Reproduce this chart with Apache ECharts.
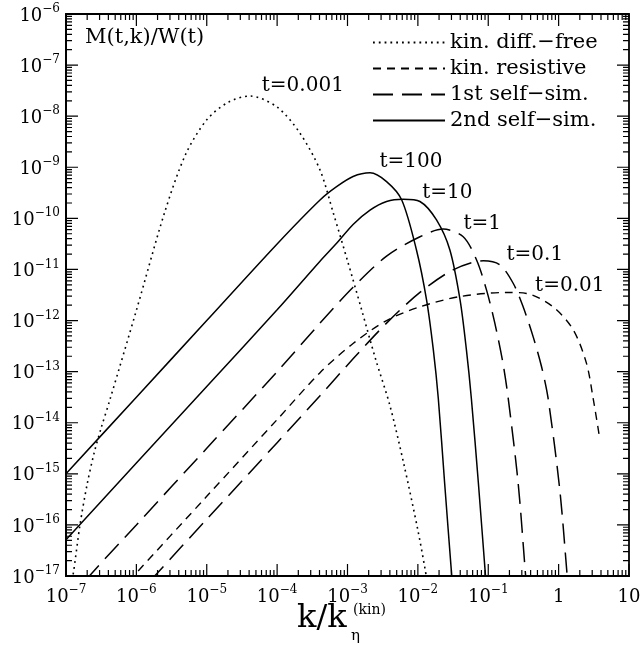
<!DOCTYPE html>
<html><head><meta charset="utf-8">
<script src="https://cdn.jsdelivr.net/npm/echarts@6/dist/echarts.min.js"></script>
<style>html,body{margin:0;padding:0;background:#fff}#c{width:641px;height:645px}</style>
</head><body><div id="c"></div>
<script>
const FONT = '"DejaVu Serif", serif';
const X_MIN = 1e-7, X_MAX = 10, Y_MIN = 1e-17, Y_MAX = 1e-6;

// tick labels
const xTickExponents = [-7, -6, -5, -4, -3, -2, -1, 0, 1];
const xTickLabels = [['10','−7'],['10','−6'],['10','−5'],['10','−4'],['10','−3'],['10','−2'],['10','−1'],['1',''],['10','']];
const yTickExponents = [-17,-16,-15,-14,-13,-12,-11,-10,-9,-8,-7,-6];
const yTickLabels = [['10','−17'],['10','−16'],['10','−15'],['10','−14'],['10','−13'],['10','−12'],['10','−11'],['10','−10'],['10','−9'],['10','−8'],['10','−7'],['10','−6']];

// legend names
const legendNames = ['kin. diff.−free', 'kin. resistive', '1st self−sim.', '2nd self−sim.'];

// series values [k/k_eta, M/W]
const diffFree_t0001 = [
  [1.12e-7,5.0e-18],[1.26e-7,1.05e-17],[1.58e-7,1.0e-16],[2.0e-7,6.3e-16],[2.5e-7,2.5e-15],
  [3.16e-7,7.9e-15],[4.2e-7,2.8e-14],[1e-6,1.58e-12],[2.5e-6,1.26e-10],[5.0e-6,1.78e-9],
  [1e-5,8.5e-9],[2.0e-5,1.86e-8],[4.1e-5,2.48e-8],[1e-4,1.51e-8],[2.1e-4,4.7e-9],
  [4.06e-4,8.9e-10],[6.3e-4,1.26e-10],[1e-3,1.48e-11],[1.58e-3,1.66e-12],[2.5e-3,1.78e-13],
  [3.98e-3,2.24e-14],[6.3e-3,1.58e-15],[1e-2,7.9e-17],[1.26e-2,1.41e-17],[1.41e-2,5.6e-18]
];
const resistive_t001 = [
  [7.9e-7,7.9e-18],[9.12e-7,1e-17],[1e-5,3.63e-16],[1e-4,1.15e-14],[4.07e-4,9.55e-14],
  [1.2e-3,3.55e-13],[3.59e-3,1e-12],[1.07e-2,1.86e-12],[3.98e-2,2.95e-12],[0.182,3.55e-12],
  [0.35,3.39e-12],[0.832,1.86e-12],[1.61,6.6e-13],[2.49,1.45e-13],[3.09,3.02e-14],[3.85,4.79e-15]
];
const selfSim1_t01 = [
  [1.58e-6,7.9e-18],[1.82e-6,1e-17],[1e-5,1.29e-16],[1e-4,4.07e-15],[4.07e-4,3.39e-14],
  [1.2e-3,1.78e-13],[3.59e-3,8.9e-13],[1.07e-2,3.55e-12],[3.16e-2,9.8e-12],[8.5e-2,1.48e-11],
  [0.146,1.23e-11],[0.226,5.37e-12],[0.313,1.86e-12],[0.435,4.79e-13],[0.571,1.26e-13],
  [0.708,3.02e-14],[1.04,4.79e-16],[1.32,1.05e-17],[1.38,5e-18]
];
const selfSim1_t1 = [
  [2.0e-7,7.9e-18],[2.15e-7,1e-17],[1e-6,1e-16],[1e-5,3.16e-15],[1e-4,1e-13],
  [4.07e-4,8.9e-13],[1.2e-3,4.47e-12],[3.59e-3,1.82e-11],[1.07e-2,4.37e-11],[2.29e-2,6.17e-11],
  [4.41e-2,4.37e-11],[6.8e-2,1.55e-11],[9.44e-2,3.98e-12],[0.124,8.9e-13],[0.162,1.45e-13],
  [0.192,3.02e-14],[0.266,6.6e-16],[0.339,1.05e-17],[0.355,5e-18]
];
const selfSim2_t10 = [
  [1e-7,5.1e-17],[1e-6,1.62e-15],[1e-5,5.1e-14],[1e-4,1.62e-12],[4.07e-4,1.45e-11],
  [7.0e-4,3.24e-11],[1.2e-3,7.6e-11],[2.09e-3,1.45e-10],[3.59e-3,2.14e-10],[6.17e-3,2.37e-10],
  [1.07e-2,2.14e-10],[1.84e-2,9.3e-11],[2.85e-2,2.4e-11],[3.98e-2,2.51e-12],[4.9e-2,2.63e-13],
  [5.75e-2,3.02e-14],[7.24e-2,6.6e-16],[9.12e-2,1.05e-17],[9.55e-2,5e-18]
];
const selfSim2_t100 = [
  [1e-7,1e-15],[1e-6,3.16e-14],[1e-5,1e-12],[1e-4,3.16e-11],[4.07e-4,2.29e-10],
  [7.0e-4,4.17e-10],[1.2e-3,6.6e-10],[2.09e-3,7.8e-10],[3.59e-3,5.25e-10],[5.9e-3,2.29e-10],
  [9.55e-3,2.4e-11],[1.33e-2,2.51e-12],[1.66e-2,2.63e-13],[1.95e-2,3.02e-14],[2.4e-2,6.6e-16],
  [3.02e-2,1.05e-17],[3.16e-2,5e-18]
];
const curveLabels = [
  [2.32e-4, 3.9e-8, 't=0.001'],
  [7.96e-3, 1.27e-9, 't=100'],
  [2.62e-2, 3.18e-10, 't=10'],
  [8.24e-2, 7.8e-11, 't=1'],
  [0.459, 1.92e-11, 't=0.1'],
  [1.44, 4.8e-12, 't=0.01']
];

// tick marks drawn as short line segments (gaps between them), 1..9 x 10^n
// tick lengths expressed as multiplicative factors on the log axes (~12 px major, ~6 px minor)
const Y_FAC_MAJOR = 1.718, Y_FAC_MINOR = 1.31, X_FAC_MAJOR = 1.481, X_FAC_MINOR = 1.217;
const xTickSegs = [];
for (let e = -7; e <= 1; e++) for (let m = 1; m <= 9; m++) {
  const v = m * Math.pow(10, e);
  if (v > X_MAX * 1.0001) continue;
  const f = m === 1 ? Y_FAC_MAJOR : Y_FAC_MINOR;
  xTickSegs.push([v, Y_MIN], [v, Y_MIN * f], [v, '-'], [v, Y_MAX], [v, Y_MAX / f], [v, '-']);
}
const yTickSegs = [];
for (let e = -17; e <= -6; e++) for (let m = 1; m <= 9; m++) {
  const v = m * Math.pow(10, e);
  if (v > Y_MAX * 1.0001) continue;
  const f = m === 1 ? X_FAC_MAJOR : X_FAC_MINOR;
  yTickSegs.push([X_MIN, v], [X_MIN * f, v], ['-', v], [X_MAX, v], [X_MAX / f, v], ['-', v]);
}

const richLabel = {
  b: {fontFamily: FONT, fontSize: 18, lineHeight: 22, color: '#000', verticalAlign: 'bottom'},
  s: {fontFamily: FONT, fontSize: 12, lineHeight: 14, color: '#000', verticalAlign: 'top'}
};
function fmt(exps, labels) {
  return function (v) {
    const e = Math.round(Math.log10(v));
    const i = exps.indexOf(e);
    if (i < 0) return '';
    const [b, s] = labels[i];
    return s ? '{b|' + b + '}{s|' + s + '}' : '{b|' + b + '}';
  };
}

function lineSeries(name, data, lineStyle) {
  return {
    type: 'line', name: name, data: data, symbol: 'none', showSymbol: false,
    smooth: 0.3, clip: true, silent: true,
    lineStyle: Object.assign({color: '#000', width: 1.5}, lineStyle),
    itemStyle: {color: '#000'}
  };
}
function tickSeries(name, data) {
  return {
    type: 'line', name: name, data: data, symbol: 'none', showSymbol: false,
    smooth: false, connectNulls: false, clip: false, silent: true, z: 3,
    lineStyle: {color: '#000', width: 1.2, type: 'solid'}, itemStyle: {color: '#000'}
  };
}

const chart = echarts.init(document.getElementById('c'), null, {renderer: 'canvas'});
chart.setOption({
  animation: false,
  backgroundColor: '#fff',
  textStyle: {fontFamily: FONT, color: '#000'},
  grid: {left: 66, right: 12, top: 14, bottom: 69, containLabel: false, outerBoundsMode: 'none',
    show: true, borderColor: '#000', borderWidth: 1.8, backgroundColor: 'transparent'},
  legend: {
    data: legendNames, orient: 'vertical', left: 372, top: 32, padding: 0,
    itemWidth: 72, itemHeight: 4, itemGap: 5, selectedMode: false,
    itemStyle: {opacity: 0},
    textStyle: {fontFamily: FONT, fontSize: 21, color: '#000', lineHeight: 20}
  },
  xAxis: {
    type: 'log', logBase: 10, min: X_MIN, max: X_MAX, interval: 1,
    axisLine: {show: true, lineStyle: {color: '#000', width: 1.8}},
    axisTick: {show: false}, splitLine: {show: false}, minorTick: {show: false},
    axisLabel: {show: true, interval: 0, margin: 8, formatter: fmt(xTickExponents, xTickLabels), rich: richLabel, hideOverlap: false}
  },
  yAxis: {
    type: 'log', logBase: 10, min: Y_MIN, max: Y_MAX, interval: 1,
    axisLine: {show: true, lineStyle: {color: '#000', width: 1.8}},
    axisTick: {show: false}, splitLine: {show: false}, minorTick: {show: false},
    axisLabel: {show: true, interval: 0, margin: 6, formatter: fmt(yTickExponents, yTickLabels), rich: richLabel, hideOverlap: false}
  },
  graphic: [
    {type: 'text', left: 85, top: 27, style: {text: 'M(t,k)/W(t)', font: '21px "DejaVu Serif"', fill: '#000'}},
    {type: 'text', x: 297, y: 619, style: {text: 'k/k', font: '32px "DejaVu Serif"', fill: '#000', verticalAlign: 'middle'}},
    {type: 'text', x: 353, y: 610, style: {text: '(kin)', font: '14px "DejaVu Serif"', fill: '#000', verticalAlign: 'middle'}},
    {type: 'text', x: 351, y: 636, style: {text: 'η', font: '15px "DejaVu Serif"', fill: '#000', verticalAlign: 'middle'}}
  ],
  series: [
    lineSeries(legendNames[0], diffFree_t0001, {type: [1.8, 4], width: 1.6}),
    lineSeries(legendNames[1], resistive_t001, {type: [8, 6], width: 1.4}),
    lineSeries(legendNames[2], selfSim1_t01, {type: [20, 9], width: 1.5}),
    lineSeries(legendNames[2], selfSim1_t1, {type: [20, 9], width: 1.5}),
    lineSeries(legendNames[3], selfSim2_t10, {type: 'solid', width: 1.5}),
    lineSeries(legendNames[3], selfSim2_t100, {type: 'solid', width: 1.5}),
    {
      type: 'scatter', name: 'labels', data: curveLabels, symbolSize: 0, silent: true,
      itemStyle: {color: '#000', opacity: 1},
      label: {show: true, position: [0, 0], align: 'center', verticalAlign: 'middle',
        formatter: p => p.data[2], fontFamily: FONT, fontSize: 20, color: '#000', opacity: 1}
    },
    tickSeries('xticks', xTickSegs),
    tickSeries('yticks', yTickSegs)
  ]
});
</script>
</body></html>
